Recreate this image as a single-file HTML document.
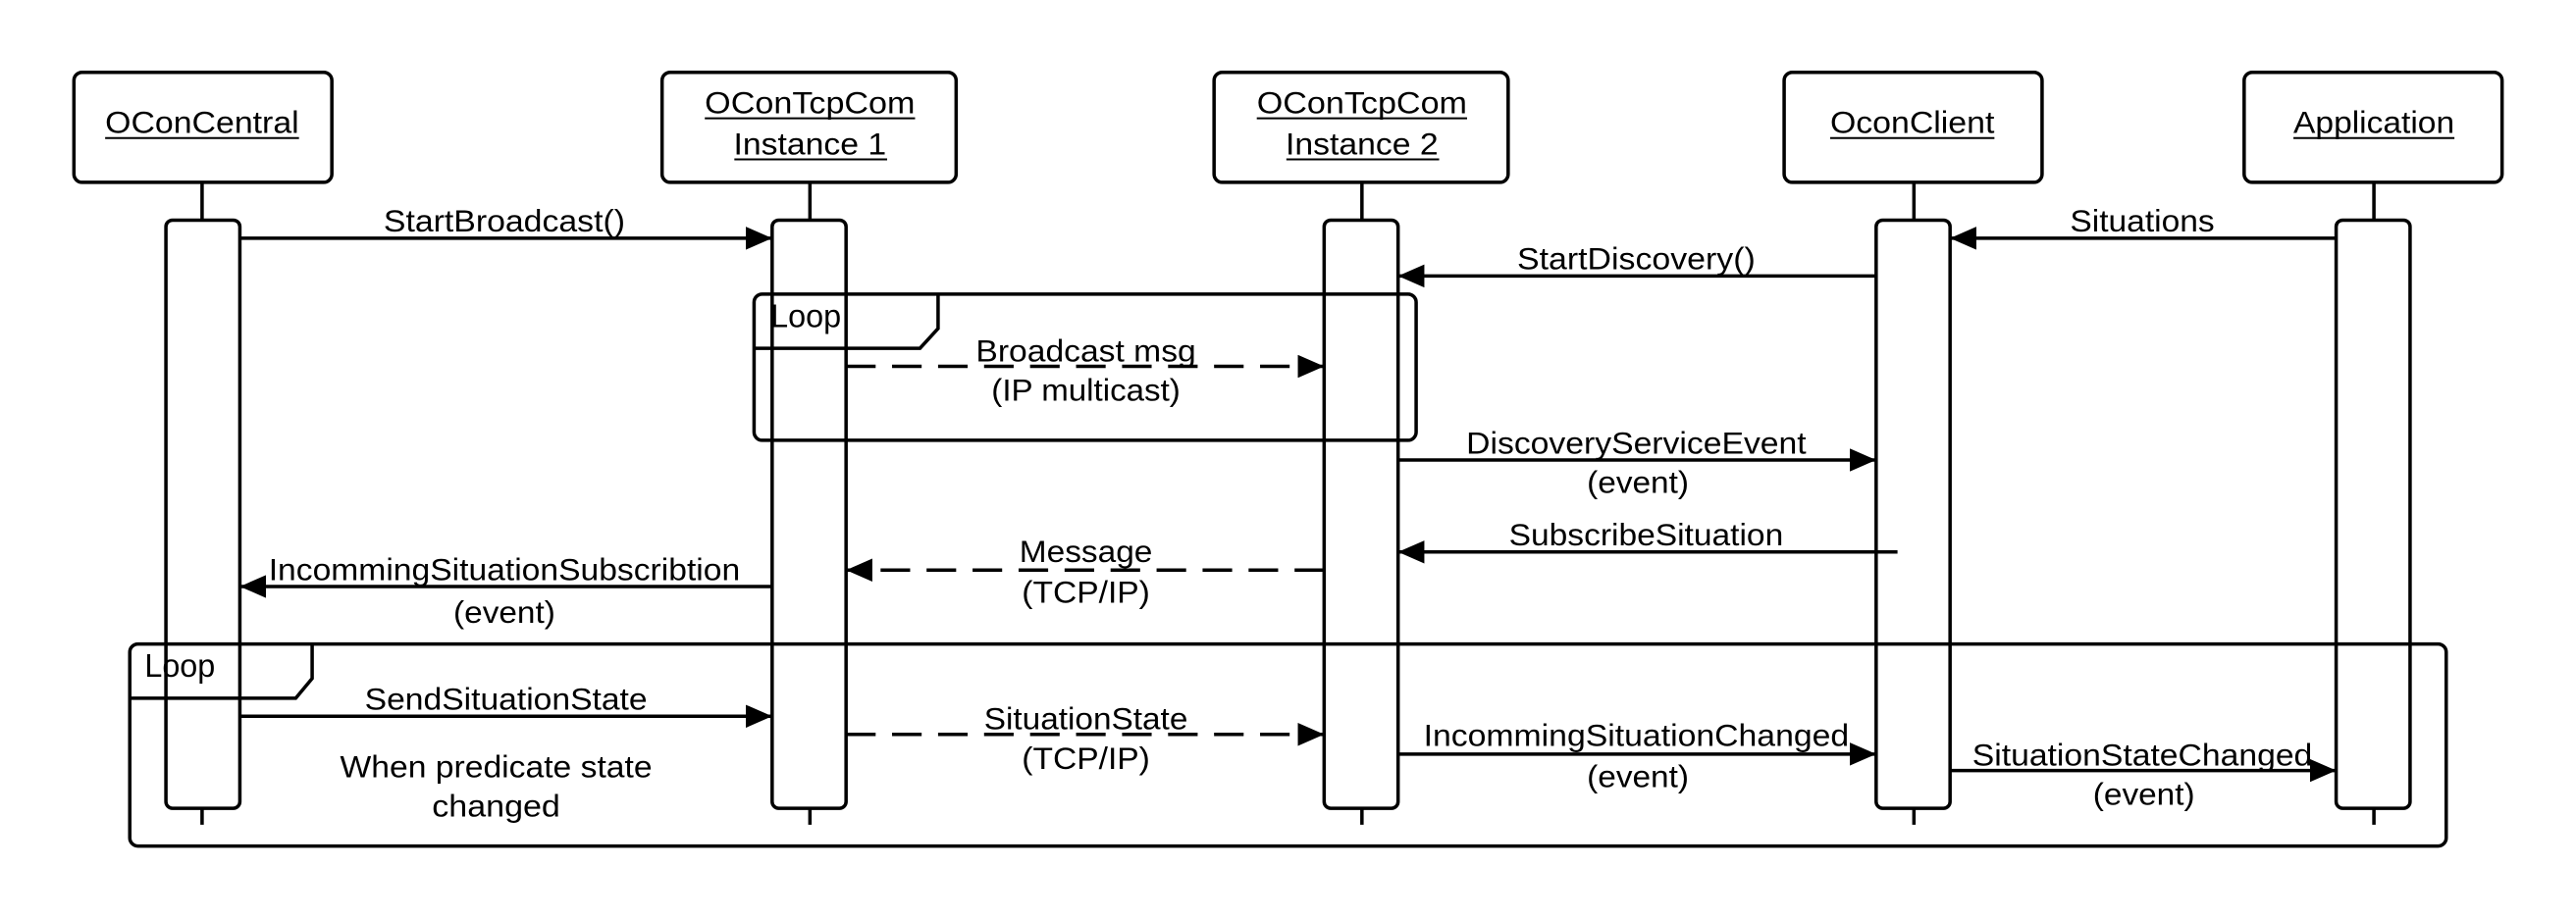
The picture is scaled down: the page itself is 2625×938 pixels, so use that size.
<!DOCTYPE html>
<html><head><meta charset="utf-8"><style>html,body{margin:0;padding:0;background:#fff}svg{display:block}</style></head>
<body>
<svg width="2625" height="938" viewBox="0 0 1568 560" preserveAspectRatio="none" xmlns="http://www.w3.org/2000/svg">
<defs>
<marker id="a" viewBox="0 0 16 14" refX="16" refY="7" markerWidth="16" markerHeight="14" markerUnits="userSpaceOnUse" orient="auto"><path d="M0,0 L16,7 L0,14 Z" fill="#000"/></marker>
</defs>
<rect width="1568" height="560" fill="#fff"/>
<g fill="none" stroke="#000" stroke-width="2.1">
<line x1="123" y1="111" x2="123" y2="502"/>
<line x1="493" y1="111" x2="493" y2="502"/>
<line x1="829" y1="111" x2="829" y2="502"/>
<line x1="1165" y1="111" x2="1165" y2="502"/>
<line x1="1445" y1="111" x2="1445" y2="502"/>
<rect x="45" y="44" width="157" height="67" rx="5" fill="#fff"/>
<rect x="403" y="44" width="179" height="67" rx="5" fill="#fff"/>
<rect x="739" y="44" width="179" height="67" rx="5" fill="#fff"/>
<rect x="1086" y="44" width="157" height="67" rx="5" fill="#fff"/>
<rect x="1366" y="44" width="157" height="67" rx="5" fill="#fff"/>
<rect x="101" y="134" width="45" height="358" rx="4" fill="#fff"/>
<rect x="470" y="134" width="45" height="358" rx="4" fill="#fff"/>
<rect x="806" y="134" width="45" height="358" rx="4" fill="#fff"/>
<rect x="1142" y="134" width="45" height="358" rx="4" fill="#fff"/>
<rect x="1422" y="134" width="45" height="358" rx="4" fill="#fff"/>
<rect x="459" y="179" width="403" height="89" rx="5"/>
<path d="M459,212 L560,212 L571,200 L571,179"/>
<rect x="79" y="392" width="1410" height="123" rx="5"/>
<path d="M79,425 L180,425 L190,413 L190,392"/>
<line x1="146" y1="145" x2="470" y2="145" marker-end="url(#a)"/>
<line x1="1422" y1="145" x2="1187" y2="145" marker-end="url(#a)"/>
<line x1="1142" y1="168" x2="851" y2="168" marker-end="url(#a)"/>
<line x1="515" y1="223" x2="806" y2="223" stroke-dasharray="18,10" marker-end="url(#a)"/>
<line x1="851" y1="280" x2="1142" y2="280" marker-end="url(#a)"/>
<line x1="1155" y1="336" x2="851" y2="336" marker-end="url(#a)"/>
<line x1="806" y1="347" x2="515" y2="347" stroke-dasharray="18,10" marker-end="url(#a)"/>
<line x1="470" y1="357" x2="146" y2="357" marker-end="url(#a)"/>
<line x1="146" y1="436" x2="470" y2="436" marker-end="url(#a)"/>
<line x1="515" y1="447" x2="806" y2="447" stroke-dasharray="18,10" marker-end="url(#a)"/>
<line x1="851" y1="459" x2="1142" y2="459" marker-end="url(#a)"/>
<line x1="1187" y1="469" x2="1422" y2="469" marker-end="url(#a)"/>
<g stroke-width="1.2">
<line x1="64" y1="84" x2="182" y2="84"/>
<line x1="429" y1="72" x2="557" y2="72"/>
<line x1="447" y1="97" x2="540" y2="97"/>
<line x1="765" y1="72" x2="893" y2="72"/>
<line x1="783" y1="97" x2="876" y2="97"/>
<line x1="1114" y1="84" x2="1214" y2="84"/>
<line x1="1396" y1="84" x2="1494" y2="84"/>
</g>
</g>
<g font-family="Liberation Sans, sans-serif" font-size="19" fill="#000" text-anchor="middle">
<text x="123" y="81" textLength="118" lengthAdjust="spacingAndGlyphs">OConCentral</text>
<text x="493" y="69" textLength="128" lengthAdjust="spacingAndGlyphs">OConTcpCom</text>
<text x="493" y="94" textLength="93" lengthAdjust="spacingAndGlyphs">Instance 1</text>
<text x="829" y="69" textLength="128" lengthAdjust="spacingAndGlyphs">OConTcpCom</text>
<text x="829" y="94" textLength="93" lengthAdjust="spacingAndGlyphs">Instance 2</text>
<text x="1164" y="81" textLength="100" lengthAdjust="spacingAndGlyphs">OconClient</text>
<text x="1445" y="81" textLength="98" lengthAdjust="spacingAndGlyphs">Application</text>
<text x="307" y="141" textLength="147" lengthAdjust="spacingAndGlyphs">StartBroadcast()</text>
<text x="1304" y="141" textLength="88" lengthAdjust="spacingAndGlyphs">Situations</text>
<text x="996" y="164" textLength="145" lengthAdjust="spacingAndGlyphs">StartDiscovery()</text>
<text x="661" y="220" textLength="134" lengthAdjust="spacingAndGlyphs">Broadcast msg</text>
<text x="661" y="244" textLength="115" lengthAdjust="spacingAndGlyphs">(IP multicast)</text>
<text x="996" y="276" textLength="207" lengthAdjust="spacingAndGlyphs">DiscoveryServiceEvent</text>
<text x="997" y="300" textLength="62" lengthAdjust="spacingAndGlyphs">(event)</text>
<text x="1002" y="332" textLength="167" lengthAdjust="spacingAndGlyphs">SubscribeSituation</text>
<text x="661" y="342" textLength="81" lengthAdjust="spacingAndGlyphs">Message</text>
<text x="661" y="367" textLength="78" lengthAdjust="spacingAndGlyphs">(TCP/IP)</text>
<text x="307" y="353" textLength="287" lengthAdjust="spacingAndGlyphs">IncommingSituationSubscribtion</text>
<text x="307" y="379" textLength="62" lengthAdjust="spacingAndGlyphs">(event)</text>
<text x="308" y="432" textLength="172" lengthAdjust="spacingAndGlyphs">SendSituationState</text>
<text x="302" y="473" textLength="190" lengthAdjust="spacingAndGlyphs">When predicate state</text>
<text x="302" y="497" textLength="78" lengthAdjust="spacingAndGlyphs">changed</text>
<text x="661" y="444" textLength="124" lengthAdjust="spacingAndGlyphs">SituationState</text>
<text x="661" y="468" textLength="78" lengthAdjust="spacingAndGlyphs">(TCP/IP)</text>
<text x="996" y="454" textLength="259" lengthAdjust="spacingAndGlyphs">IncommingSituationChanged</text>
<text x="997" y="479" textLength="62" lengthAdjust="spacingAndGlyphs">(event)</text>
<text x="1304" y="466" textLength="207" lengthAdjust="spacingAndGlyphs">SituationStateChanged</text>
<text x="1305" y="490" textLength="62" lengthAdjust="spacingAndGlyphs">(event)</text>
<text x="469" y="199" text-anchor="start" font-size="20" textLength="43" lengthAdjust="spacingAndGlyphs">Loop</text>
<text x="88" y="412" text-anchor="start" font-size="20" textLength="43" lengthAdjust="spacingAndGlyphs">Loop</text>
</g>
</svg>
</body></html>
